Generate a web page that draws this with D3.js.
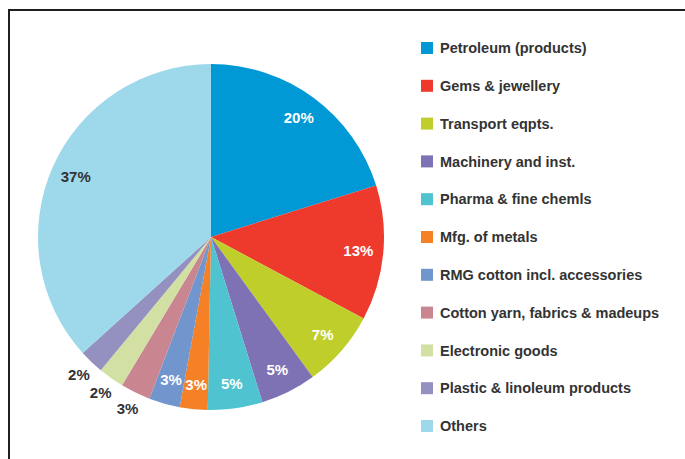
<!DOCTYPE html>
<html>
<head>
<meta charset="utf-8">
<script src="https://cdn.jsdelivr.net/npm/d3@7"></script>
<style>
  body { margin: 0; background: #fff; }
  svg { display: block; }
  text { font-family: "Liberation Sans", Arial, sans-serif; font-weight: bold; }
</style>
</head>
<body>
<svg id="chart" width="685" height="459"></svg>
<script>
const categories = [
    "Petroleum (products)",
    "Gems & jewellery",
    "Transport eqpts.",
    "Machinery and inst.",
    "Pharma & fine chemls",
    "Mfg. of metals",
    "RMG cotton incl. accessories",
    "Cotton yarn, fabrics & madeups",
    "Electronic goods",
    "Plastic & linoleum products",
    "Others"
];
const shares = [20.2, 12.6, 7.2, 5.2, 5.1, 2.6, 2.9, 2.8, 2.4, 2.3, 36.7];
const colors = [
    "#0099d6", "#ee3a2c", "#bfce2b", "#7e72b5", "#4fc3d0", "#f58025",
    "#7196ce", "#c98690", "#d3e0a4", "#9490c0", "#9dd9ea"
];
// labels placed outside the pie (thin slices)
const outside = ["Cotton yarn, fabrics & madeups", "Electronic goods", "Plastic & linoleum products"];
const darkLabel = ["Others"];

const CX = 211, CY = 237, R = 173;
const LABEL_R = 148, OUT_R = 191;

const svg = d3.select("#chart");

// frame
svg.append("path")
    .attr("d", "M9,459 V10 H685")
    .attr("fill", "none")
    .attr("stroke", "#231f20")
    .attr("stroke-width", 2);

const pie = d3.pie().sort(null).value((d) => d.v);
const arcs = pie(categories.map((c, i) => ({ name: c, v: shares[i], color: colors[i] })));

const arc = d3.arc().innerRadius(0).outerRadius(R);
const labelArc = d3.arc().innerRadius(LABEL_R).outerRadius(LABEL_R);
const outArc = d3.arc().innerRadius(OUT_R).outerRadius(OUT_R);

const g = svg.append("g").attr("transform", `translate(${CX},${CY})`);

g.selectAll("path.slice")
    .data(arcs)
    .enter()
    .append("path")
    .attr("class", "slice")
    .attr("d", arc)
    .attr("fill", (d) => d.data.color);

g.selectAll("text.pct")
    .data(arcs)
    .enter()
    .append("text")
    .attr("class", "pct")
    .attr("transform", (d) => {
        const a = outside.includes(d.data.name) ? outArc : labelArc;
        return `translate(${a.centroid(d)})`;
    })
    .attr("text-anchor", "middle")
    .attr("dy", "0.36em")
    .attr("font-size", 15)
    .attr("fill", (d) =>
        outside.includes(d.data.name) || darkLabel.includes(d.data.name) ? "#333" : "#fff"
    )
    .text((d) => Math.round(d.data.v) + "%");

// legend
const legendY = d3.scalePoint().domain(categories).range([48, 426]);

const lg = svg.append("g").attr("class", "legend");
const rows = lg.selectAll("g")
    .data(categories)
    .enter()
    .append("g")
    .attr("transform", (d) => `translate(421,${legendY(d)})`);

rows.append("rect")
    .attr("x", 0)
    .attr("y", -6)
    .attr("width", 12)
    .attr("height", 12)
    .attr("fill", (d, i) => colors[i]);

rows.append("text")
    .attr("x", 19)
    .attr("dy", "0.36em")
    .attr("font-size", 14.5)
    .attr("fill", "#333")
    .text((d) => d);
</script>
</body>
</html>
